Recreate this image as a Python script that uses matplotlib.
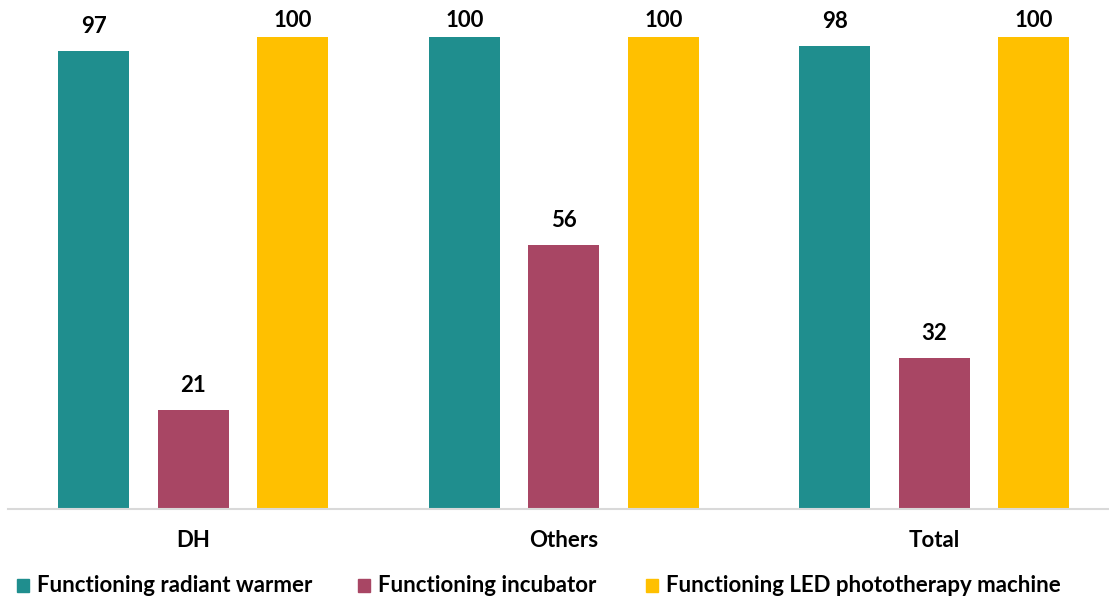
import matplotlib
matplotlib.use("Agg")
import matplotlib.pyplot as plt
from matplotlib.patches import Rectangle
import numpy as np

categories = ["DH", "Others", "Total"]
series_names = [
    "Functioning radiant warmer",
    "Functioning incubator",
    "Functioning LED phototherapy machine",
]
radiant_warmer = [97, 100, 98]
incubator = [21, 56, 32]
led_phototherapy = [100, 100, 100]
colors = ["#1F8E8E", "#A84664", "#FFC000"]

plt.rcParams["font.family"] = ["Lato", "DejaVu Sans"]
plt.rcParams["font.weight"] = "bold"

W, H = 1109, 600
fig = plt.figure(figsize=(W / 100, H / 100), dpi=100)

# axes: baseline at y=509 px, category slots 370.5 px wide starting at x=8
left_px, base_px = 8, 509
slot = 370.5
px_per_unit = 4.72
ax = fig.add_axes([left_px / W, (H - base_px) / H, (W - left_px) / W, (base_px - 4) / H])
ymax = (base_px - 4) / px_per_unit
ax.set_ylim(0, ymax)
ax.set_xlim(-0.5, -0.5 + (W - left_px) / slot)

x = np.arange(len(categories))
offset = 99.5 / slot
width = 71 / slot
label_gap = 18 / px_per_unit          # baseline of value label above bar top
label_cap = (base_px - 27) / px_per_unit  # labels kept inside the chart area
all_series = [radiant_warmer, incubator, led_phototherapy]
for i, (vals, c, name) in enumerate(zip(all_series, colors, series_names)):
    bars = ax.bar(x + (i - 1) * offset, vals, width=width, color=c, label=name)
    for b, v in zip(bars, vals):
        ax.text(b.get_x() + b.get_width() / 2, min(v + label_gap, label_cap), f"{v}",
                ha="center", va="baseline", fontsize=16, fontweight="bold",
                color="black", clip_on=False)

for s in ["top", "right", "left"]:
    ax.spines[s].set_visible(False)
ax.spines["bottom"].set_color("#D9D9D9")
ax.spines["bottom"].set_linewidth(1.5)
ax.set_yticks([])
ax.set_xticks(x)
ax.set_xticklabels(categories, fontsize=16, fontweight="bold")
ax.tick_params(axis="x", length=0, pad=15)

# legend row along the bottom edge
legend_y = 585
swatch_x = [17, 358, 646]
for sx, c, name in zip(swatch_x, colors, series_names):
    fig.patches.append(Rectangle((sx / W, 1 - (legend_y + 6.5) / H), 12 / W, 13 / H,
                                 transform=fig.transFigure, color=c))
    fig.text((sx + 20) / W, 1 - legend_y / H, name, ha="left", va="center",
             fontsize=16, fontweight="bold", color="black")

fig.savefig("out.png", dpi=100)
